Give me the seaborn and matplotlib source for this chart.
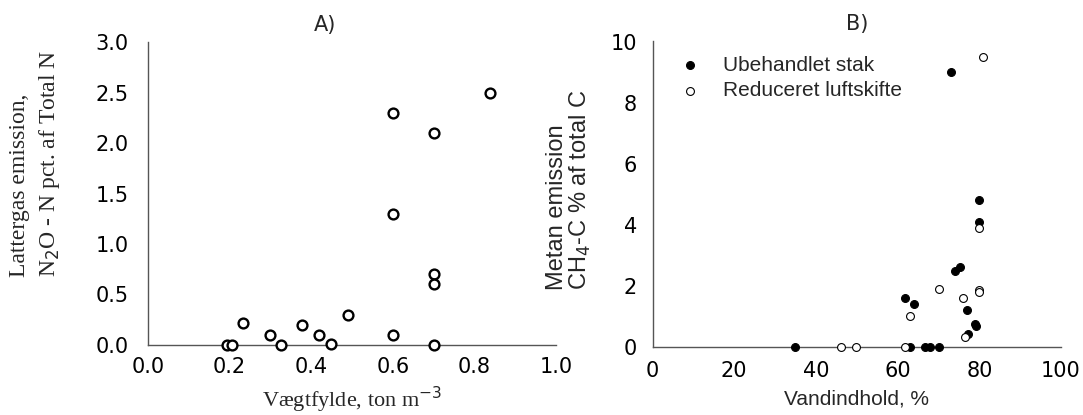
import matplotlib
matplotlib.use("Agg")
import matplotlib.pyplot as plt
import seaborn as sns
import pandas as pd

# Panel A data
a_density = [0.194, 0.205, 0.233, 0.30, 0.326, 0.378, 0.42, 0.449, 0.49,
             0.60, 0.60, 0.60, 0.70, 0.70, 0.70, 0.70, 0.837]
a_n2o = [0.0, 0.0, 0.22, 0.10, 0.0, 0.20, 0.10, 0.01, 0.30,
         2.30, 1.30, 0.10, 2.10, 0.70, 0.60, 0.0, 2.50]

# Panel B data
b_water_untreated = [35.0, 61.9, 63.0, 64.0, 66.8, 68.0, 70.1, 73.1, 74.0, 75.2,
                     76.9, 77.2, 79.0, 79.2, 80.0, 80.0]
b_ch4_untreated = [0.0, 1.61, 0.0, 1.40, 0.0, 0.0, 0.0, 9.0, 2.50, 2.62,
                   1.20, 0.42, 0.74, 0.70, 4.80, 4.10]
b_water_reduced = [46.1, 49.9, 61.8, 63.0, 70.1, 76.0, 76.5, 80.0, 80.0, 80.0, 81.0]
b_ch4_reduced = [0.0, 0.0, 0.0, 1.02, 1.90, 1.61, 0.32, 3.88, 1.87, 1.79, 9.50]

label_untreated = "Ubehandlet stak"
label_reduced = "Reduceret luftskifte"

sns.set_theme(style="white")
plt.rcParams['font.family'] = ['DejaVu Sans']

fig = plt.figure(figsize=(10.83, 4.15), dpi=100)
axA = fig.add_axes([0.1367, 0.1687, 0.3767, 0.730])
axB = fig.add_axes([0.6025, 0.164, 0.3772, 0.736])

dfA = pd.DataFrame({"x": a_density, "y": a_n2o})
sns.scatterplot(data=dfA, x="x", y="y", ax=axA, marker="o", s=50,
                facecolor="white", edgecolor="black", linewidth=1.7, clip_on=False, zorder=3)

dfU = pd.DataFrame({"x": b_water_untreated, "y": b_ch4_untreated})
dfR = pd.DataFrame({"x": b_water_reduced, "y": b_ch4_reduced})
sns.scatterplot(data=dfU, x="x", y="y", ax=axB, marker="o", s=32,
                color="black", edgecolor="black", linewidth=0.8, clip_on=False, zorder=3,
                label=label_untreated)
sns.scatterplot(data=dfR, x="x", y="y", ax=axB, marker="o", s=32,
                facecolor="white", edgecolor="black", linewidth=0.8, clip_on=False, zorder=4,
                label=label_reduced)

for ax in (axA, axB):
    for s in ("top", "right"):
        ax.spines[s].set_visible(False)
    for s in ("left", "bottom"):
        ax.spines[s].set_color("#555555")
        ax.spines[s].set_linewidth(1.0)
    ax.grid(False)
    ax.tick_params(axis="both", labelsize=15, colors="black", length=4, width=1.0)
    ax.tick_params(axis="both", color="#555555")

# Panel A
axA.set_xlim(0, 1.0)
axA.set_ylim(0, 3.0)
axA.set_xticks([0.0, 0.2, 0.4, 0.6, 0.8, 1.0])
axA.set_xticklabels(["0.0", "0.2", "0.4", "0.6", "0.8", "1.0"])
axA.set_yticks([0.0, 0.5, 1.0, 1.5, 2.0, 2.5, 3.0])
axA.set_yticklabels(["0.0", "0.5", "1.0", "1.5", "2.0", "2.5", "3.0"])
axA.tick_params(axis="x", direction="in", pad=8.5)
axA.tick_params(axis="y", direction="out", pad=10)
axA.set_xlabel("Vægtfylde, ton m$^{-3}$", family="Liberation Serif", fontsize=16, labelpad=6)
ylA = axA.set_ylabel("Lattergas emission,\nN$_2$O - N pct. af Total N", family="Liberation Serif",
                     fontsize=17, linespacing=1.35)
ylA.set_multialignment("left")
axA.yaxis.set_label_coords(-0.212, 0.60)
axA.set_title("A)", fontsize=15, x=0.434, pad=8)

# Panel B
axB.set_xlim(0, 100)
axB.set_ylim(0, 10)
axB.set_xticks([0, 20, 40, 60, 80, 100])
axB.set_yticks([0, 2, 4, 6, 8, 10])
axB.tick_params(axis="x", direction="out", pad=6)
axB.tick_params(axis="y", direction="out", pad=7)
axB.set_xlabel("Vandindhold, %", family="Liberation Sans", fontsize=15, labelpad=6)
ylB = axB.set_ylabel("Metan emission\nCH$_4$-C % af total C", family="Liberation Sans",
                     fontsize=17, linespacing=1.0)
ylB.set_multialignment("left")
axB.yaxis.set_label_coords(-0.146, 0.514)
axB.set_title("B)", fontsize=15, pad=8)
leg = axB.legend(loc="upper left", bbox_to_anchor=(0.02, 0.98), frameon=False,
                 prop={"family": "Liberation Sans", "size": 15}, handletextpad=0.6,
                 labelspacing=0.3, borderaxespad=0.0)

fig.savefig("out.png", dpi=100)
